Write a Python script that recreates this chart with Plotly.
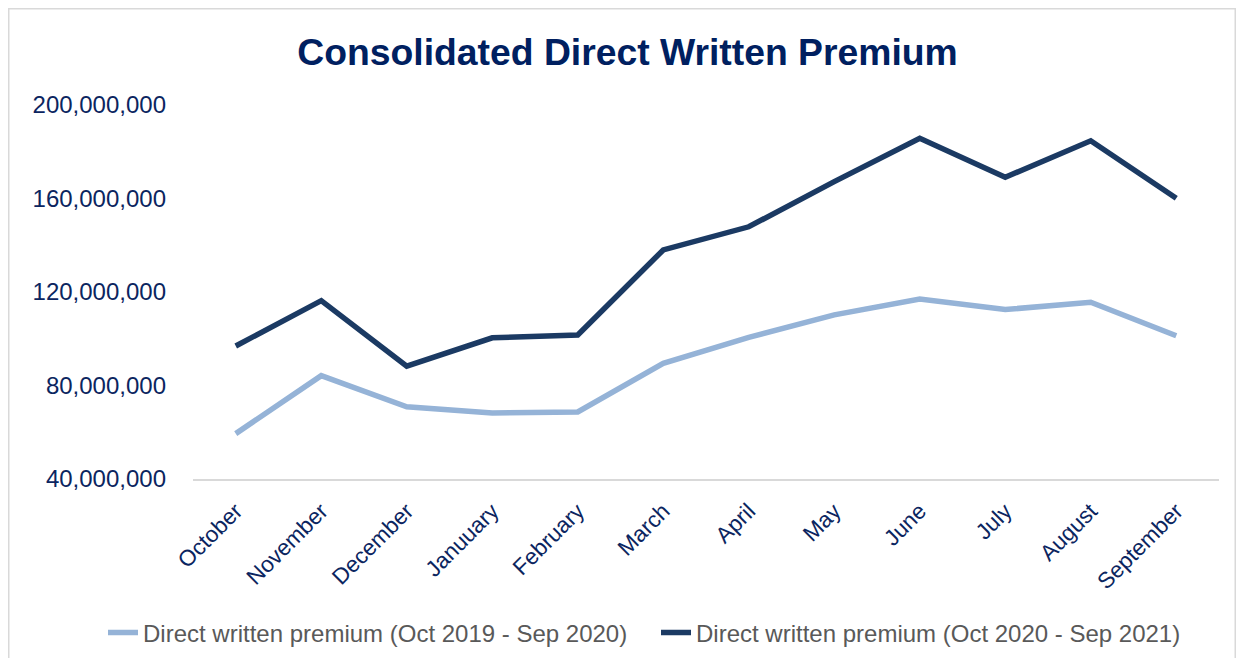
import plotly.graph_objects as go

months = ["October", "November", "December", "Januuary", "February", "March",
          "April", "May", "June", "July", "August", "September"]
prior_year = [59.4e6, 84.2e6, 70.9e6, 68.2e6, 68.7e6, 89.5e6,
              100.6e6, 110.2e6, 117.0e6, 112.5e6, 115.6e6, 101.3e6]
current_year = [96.9e6, 116.3e6, 88.3e6, 100.4e6, 101.6e6, 138.0e6,
                147.9e6, 167.2e6, 185.8e6, 169.1e6, 184.7e6, 160.1e6]
series_names = ["Direct written premium (Oct 2019 - Sep 2020)",
                "Direct written premium (Oct 2020 - Sep 2021)"]
y_ticks = [40e6, 80e6, 120e6, 160e6, 200e6]

FONT = "Liberation Sans, Arial, sans-serif"
NAVY = "#0b2560"

fig = go.Figure()
fig.add_trace(go.Scatter(x=months, y=prior_year, mode="lines", name=series_names[0],
                         line=dict(color="#95b3d7", width=5.5), legend="legend"))
fig.add_trace(go.Scatter(x=months, y=current_year, mode="lines", name=series_names[1],
                         line=dict(color="#1b3a63", width=5.5), legend="legend2"))

# page body adds an 8px offset, so the figure is sized to fit the window
W, H = 1228, 650
L, R, T, B = 185, 17, 97, 179
pw, ph = W - L - R, H - T - B

def px_x(p):
    return (p - L) / pw

def px_y(p):
    return (H - B - p) / ph

leg_common = dict(orientation="h", xanchor="left", yanchor="middle",
                  font=dict(size=24, color="#595959", family=FONT),
                  itemwidth=30, bgcolor="rgba(0,0,0,0)")

fig.update_layout(
    width=W, height=H,
    margin=dict(l=L, r=R, t=T, b=B, autoexpand=False),
    paper_bgcolor="white", plot_bgcolor="white",
    font=dict(family=FONT),
    title=dict(text="<b>Consolidated Direct Written Premium</b>",
               font=dict(size=37.3, color="#002060", family=FONT),
               x=619.5 / W, xanchor="center", y=1 - 43.5 / H, yanchor="middle"),
    showlegend=True,
    legend=dict(x=px_x(95), y=px_y(625), **leg_common),
    legend2=dict(x=px_x(648), y=px_y(625), **leg_common),
    shapes=[dict(type="rect", xref="paper", yref="paper",
                 x0=px_x(0.75), x1=px_x(W - 0.75), y0=px_y(H + 10), y1=px_y(0.75),
                 line=dict(color="#d9d9d9", width=1.5), fillcolor="rgba(0,0,0,0)",
                 layer="below")],
)

fig.update_xaxes(type="category", showgrid=False, zeroline=False,
                 showline=True, linecolor="#d9d9d9", linewidth=2,
                 ticks="", tickangle=-45, automargin=False,
                 tickfont=dict(size=22.5, color=NAVY, family=FONT),
                 ticklabelstandoff=8, range=[-0.5, 11.5])
fig.update_yaxes(range=[40e6, 200e6], tickvals=y_ticks, tickformat=",d",
                 showgrid=False, zeroline=False, showline=False, ticks="",
                 automargin=False,
                 tickfont=dict(size=24, color=NAVY, family=FONT),
                 ticklabelstandoff=26)

fig.write_html("out.html")
